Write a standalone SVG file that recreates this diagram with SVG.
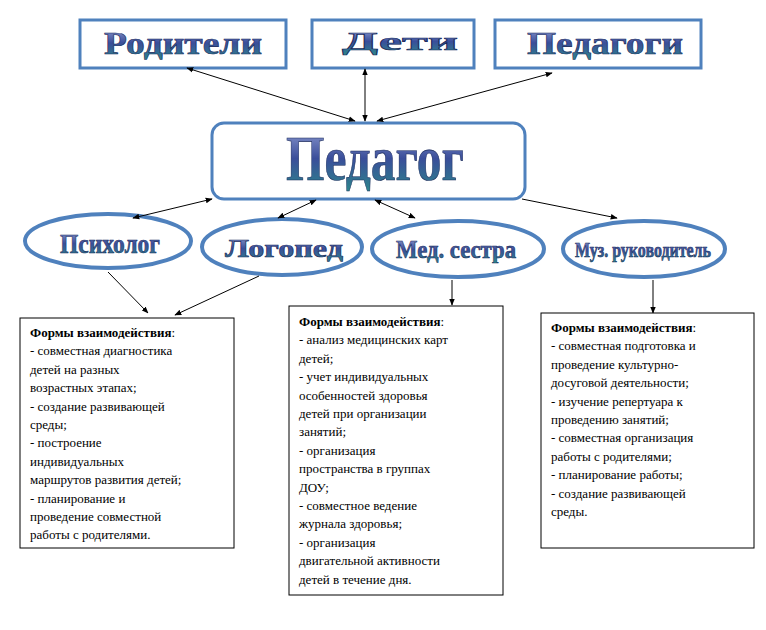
<svg xmlns="http://www.w3.org/2000/svg" width="766" height="630" viewBox="0 0 766 630">
<defs>
<linearGradient id="g" x1="0" y1="0" x2="0" y2="1"><stop offset="0" stop-color="#9aa6d8"/><stop offset="0.5" stop-color="#3a4e9a"/><stop offset="1" stop-color="#2c8a8a"/></linearGradient>
<marker id="a" viewBox="0 0 10 10" refX="9" refY="5" markerWidth="7" markerHeight="7" orient="auto-start-reverse"><path d="M0,1 L10,5 L0,9 z" fill="#000"/></marker>
</defs>
<style>
.bx{fill:#fff;stroke:#4f81bd;stroke-width:3}
.el{fill:#fff;stroke:#4f81bd;stroke-width:4}
.tt{font-family:'Liberation Serif','Times New Roman','DejaVu Serif',serif;font-weight:bold;fill:url(#g);stroke:#1a2a5a;stroke-width:0.6;text-anchor:middle}
.tb{fill:#fff;stroke:#000;stroke-width:1}
.tx{font-family:'Liberation Serif','Times New Roman','DejaVu Serif',serif;font-size:13px;fill:#000}
.c line{stroke:#000;stroke-width:1}
</style>
<rect width="766" height="630" fill="#fff"/>
<g id="roditeli"><rect class="bx" x="80" y="20" width="206" height="48"/><text class="tt" x="183" y="54" font-size="32" textLength="158" lengthAdjust="spacingAndGlyphs">Родители</text></g>
<g id="deti"><rect class="bx" x="312" y="20" width="162" height="48"/><text class="tt" x="400" y="50" font-size="26" textLength="116" lengthAdjust="spacingAndGlyphs">Дети</text></g>
<g id="pedagogi"><rect class="bx" x="495" y="20" width="206" height="48"/><text class="tt" x="605" y="54" font-size="32" textLength="156" lengthAdjust="spacingAndGlyphs">Педагоги</text></g>
<g id="pedagog"><rect class="bx" x="212" y="123" width="313" height="76" rx="12"/><text class="tt" x="375" y="180" font-size="64" textLength="178" lengthAdjust="spacingAndGlyphs">Педагог</text></g>
<g id="psiholog"><ellipse class="el" cx="108" cy="241" rx="83" ry="27"/><text class="tt" x="110" y="253" font-size="28" textLength="100" lengthAdjust="spacingAndGlyphs">Психолог</text></g>
<g id="logoped"><ellipse class="el" cx="282" cy="247" rx="80" ry="28"/><text class="tt" x="284" y="257" font-size="26" textLength="118" lengthAdjust="spacingAndGlyphs">Логопед</text></g>
<g id="medsestra"><ellipse class="el" cx="458" cy="249" rx="86" ry="28"/><text class="tt" x="456" y="258" font-size="25" textLength="120" lengthAdjust="spacingAndGlyphs">Мед. сестра</text></g>
<g id="muz"><ellipse class="el" cx="644" cy="249" rx="81" ry="28"/><text class="tt" x="643" y="257" font-size="21" textLength="136" lengthAdjust="spacingAndGlyphs">Муз. руководитель</text></g>
<g class="c">
<line x1="355" y1="121" x2="187" y2="68" marker-start="url(#a)" marker-end="url(#a)"/>
<line x1="365" y1="121" x2="365" y2="69" marker-start="url(#a)" marker-end="url(#a)"/>
<line x1="377" y1="121" x2="552" y2="73" marker-start="url(#a)" marker-end="url(#a)"/>
<line x1="212" y1="199" x2="133" y2="218" marker-start="url(#a)" marker-end="url(#a)"/>
<line x1="316" y1="200" x2="278" y2="218" marker-start="url(#a)" marker-end="url(#a)"/>
<line x1="375" y1="200" x2="415" y2="218" marker-start="url(#a)" marker-end="url(#a)"/>
<line x1="522" y1="199" x2="617" y2="218" marker-end="url(#a)"/>
<line x1="108" y1="272" x2="148" y2="313" marker-end="url(#a)"/>
<line x1="259" y1="276" x2="175" y2="315" marker-end="url(#a)"/>
<line x1="452" y1="280" x2="452" y2="305" marker-end="url(#a)"/>
<line x1="653" y1="280" x2="653" y2="313" marker-end="url(#a)"/>
</g>
<g id="box1"><rect class="tb" x="20" y="318" width="214" height="230"/>
<text class="tx" x="30" y="337"><tspan font-weight="bold">Формы взаимодействия</tspan>:<tspan x="30" dy="18.4">- совместная диагностика</tspan><tspan x="30" dy="18.4">детей на разных</tspan><tspan x="30" dy="18.4">возрастных этапах;</tspan><tspan x="30" dy="18.4">- создание развивающей</tspan><tspan x="30" dy="18.4">среды;</tspan><tspan x="30" dy="18.4">- построение</tspan><tspan x="30" dy="18.4">индивидуальных</tspan><tspan x="30" dy="18.4">маршрутов развития детей;</tspan><tspan x="30" dy="18.4">- планирование и</tspan><tspan x="30" dy="18.4">проведение совместной</tspan><tspan x="30" dy="18.4">работы с родителями.</tspan></text></g>
<g id="box2"><rect class="tb" x="289" y="306" width="214" height="289"/>
<text class="tx" x="299" y="326"><tspan font-weight="bold">Формы взаимодействия</tspan>:<tspan x="299" dy="18.4">- анализ медицинских карт</tspan><tspan x="299" dy="18.4">детей;</tspan><tspan x="299" dy="18.4">- учет индивидуальных</tspan><tspan x="299" dy="18.4">особенностей здоровья</tspan><tspan x="299" dy="18.4">детей при организации</tspan><tspan x="299" dy="18.4">занятий;</tspan><tspan x="299" dy="18.4">- организация</tspan><tspan x="299" dy="18.4">пространства в группах</tspan><tspan x="299" dy="18.4">ДОУ;</tspan><tspan x="299" dy="18.4">- совместное ведение</tspan><tspan x="299" dy="18.4">журнала здоровья;</tspan><tspan x="299" dy="18.4">- организация</tspan><tspan x="299" dy="18.4">двигательной активности</tspan><tspan x="299" dy="18.4">детей в течение дня.</tspan></text></g>
<g id="box3"><rect class="tb" x="541" y="313" width="213" height="235"/>
<text class="tx" x="551" y="332"><tspan font-weight="bold">Формы взаимодействия</tspan>:<tspan x="551" dy="18.4">- совместная подготовка и</tspan><tspan x="551" dy="18.4">проведение культурно-</tspan><tspan x="551" dy="18.4">досуговой деятельности;</tspan><tspan x="551" dy="18.4">- изучение репертуара к</tspan><tspan x="551" dy="18.4">проведению занятий;</tspan><tspan x="551" dy="18.4">- совместная организация</tspan><tspan x="551" dy="18.4">работы с родителями;</tspan><tspan x="551" dy="18.4">- планирование работы;</tspan><tspan x="551" dy="18.4">- создание развивающей</tspan><tspan x="551" dy="18.4">среды.</tspan></text></g>
</svg>
